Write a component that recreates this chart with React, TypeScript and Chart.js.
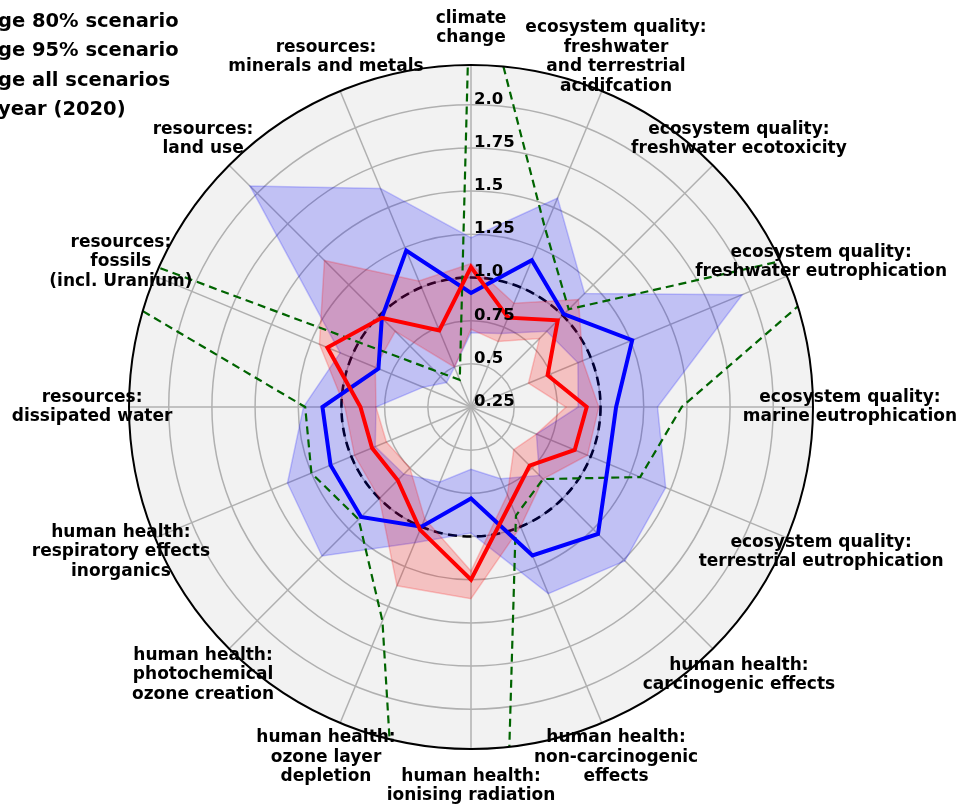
import React, { useEffect, useRef } from 'react';
import { Chart, registerables } from 'chart.js';

Chart.register(...registerables);

// ---------- data ----------
const CATEGORIES: string[][] = [
  ['climate', 'change'],
  ['ecosystem quality:', 'freshwater', 'and terrestrial', 'acidifcation'],
  ['ecosystem quality:', 'freshwater ecotoxicity'],
  ['ecosystem quality:', 'freshwater eutrophication'],
  ['ecosystem quality:', 'marine eutrophication'],
  ['ecosystem quality:', 'terrestrial eutrophication'],
  ['human health:', 'carcinogenic effects'],
  ['human health:', 'non-carcinogenic', 'effects'],
  ['human health:', 'ionising radiation'],
  ['human health:', 'ozone layer', 'depletion'],
  ['human health:', 'photochemical', 'ozone creation'],
  ['human health:', 'respiratory effects', 'inorganics'],
  ['resources:', 'dissipated water'],
  ['resources:', 'fossils', '(incl. Uranium)'],
  ['resources:', 'land use'],
  ['resources:', 'minerals and metals'],
];

const BLUE_LINE = [0.91, 1.17, 1.01, 1.26, 1.09, 1.11, 1.29, 1.18, 0.78, 1.0, 1.15, 1.13, 1.11, 0.83, 0.98, 1.23];
const RED_LINE = [1.06, 0.81, 0.96, 0.73, 0.92, 0.9, 0.73, 0.85, 1.25, 1.02, 0.85, 0.87, 0.89, 1.15, 0.98, 0.73];
const ALL_SCENARIOS = [2.95, 1.37, 1.05, 2.78, 1.47, 1.31, 0.84, 0.93, 10.0, 1.59, 1.17, 1.25, 1.21, 3.73, null, 0.42];
const BLUE_UPPER = [1.23, 1.56, 1.18, 1.95, 1.33, 1.47, 1.51, 1.42, 0.98, 1.1, 1.47, 1.4, 1.22, 1.07, 2.06, 1.62];
const BLUE_LOWER = [0.68, 0.71, 0.87, 0.92, 0.87, 0.66, 0.81, 0.7, 0.61, 0.72, 0.8, 0.85, 0.8, 0.55, 0.45, 0.5];
const RED_UPPER = [1.08, 0.9, 1.13, 0.95, 0.99, 0.98, 0.84, 1.0, 1.36, 1.37, 1.0, 0.98, 0.98, 1.2, 1.45, 1.04];
const RED_LOWER = [0.7, 0.66, 0.81, 0.61, 0.8, 0.66, 0.6, 0.8, 1.2, 0.95, 0.75, 0.78, 0.8, 0.85, 0.87, 0.5];

const TICK_VALUES = [0.25, 0.5, 0.75, 1.0, 1.25, 1.5, 1.75, 2.0];
const TICK_LABELS = ['0.25', '0.5', '0.75', '1.0', '1.25', '1.5', '1.75', '2.0'];
const R_MIN = 0.25;
const R_MAX = 2.23;
const REFERENCE_LEVEL = 1.0;

const LEGEND_LABELS = ['range 80% scenario', 'range 95% scenario', 'range all scenarios', 'base year (2020)'];
const LEGEND_HIDDEN_PREFIX = ['ran', 'ran', 'ran', 'base '];

// ---------- plugin ----------
const FONT = '"DejaVu Sans", "Liberation Sans", sans-serif';

const radarDecor = {
  id: 'radarDecor',
  beforeDatasetsDraw(chart: any) {
    const s = chart.scales.r;
    const ctx = chart.ctx;
    ctx.save();
    ctx.beginPath();
    ctx.arc(s.xCenter, s.yCenter, s.drawingArea, 0, Math.PI * 2);
    ctx.clip();
    // reference circle
    const d = s.getDistanceFromCenterForValue(REFERENCE_LEVEL);
    ctx.save();
    ctx.beginPath();
    ctx.arc(s.xCenter, s.yCenter, d, 0, Math.PI * 2);
    ctx.setLineDash([9, 5.5]);
    ctx.lineWidth = 2.6;
    ctx.strokeStyle = '#000000';
    ctx.stroke();
    ctx.restore();
  },
  afterDatasetsDraw(chart: any) {
    const s = chart.scales.r;
    const ctx = chart.ctx;
    ctx.restore();
    // outer frame
    ctx.save();
    ctx.beginPath();
    ctx.arc(s.xCenter, s.yCenter, s.drawingArea, 0, Math.PI * 2);
    ctx.lineWidth = 2;
    ctx.strokeStyle = '#000000';
    ctx.stroke();
    ctx.restore();

    // radial tick labels
    ctx.save();
    ctx.fillStyle = '#000000';
    ctx.font = 'bold 16.5px ' + FONT;
    ctx.textAlign = 'left';
    ctx.textBaseline = 'alphabetic';
    TICK_VALUES.forEach((v, i) => {
      const dist = s.getDistanceFromCenterForValue(v);
      ctx.fillText(TICK_LABELS[i], s.xCenter + 3, s.yCenter - dist - 1);
    });
    ctx.restore();

    // category labels
    ctx.save();
    ctx.fillStyle = '#000000';
    ctx.font = 'bold 17px ' + FONT;
    ctx.textAlign = 'center';
    ctx.textBaseline = 'middle';
    const lh = 19.5;
    CATEGORIES.forEach((lines, i) => {
      const p = s.getPointPosition(i, s.drawingArea * 1.108);
      lines.forEach((t, k) => {
        ctx.fillText(t, p.x, p.y + (k - (lines.length - 1) / 2) * lh);
      });
    });
    ctx.restore();

    // legend (partly outside the figure)
    ctx.save();
    ctx.fillStyle = '#000000';
    ctx.font = 'bold 19.5px ' + FONT;
    ctx.textAlign = 'left';
    ctx.textBaseline = 'middle';
    LEGEND_LABELS.forEach((t, i) => {
      const w = ctx.measureText(LEGEND_HIDDEN_PREFIX[i]).width;
      ctx.fillText(t, -2 - w, 22 + i * 29.3);
    });
    ctx.restore();
  },
};

export default function App() {
  const ref = useRef<HTMLCanvasElement>(null);
  useEffect(() => {
    const canvas = ref.current;
    if (!canvas) return;
    const labels = CATEGORIES.map((l) => l.join(' '));
    const chart = new Chart(canvas, {
      type: 'radar',
      data: {
        labels,
        datasets: [
          {
            label: 'blue',
            data: BLUE_LINE,
            borderColor: '#0000ff',
            borderWidth: 4,
            pointRadius: 0,
            fill: false,
            order: 1,
          },
          {
            label: 'red',
            data: RED_LINE,
            borderColor: '#ff0000',
            borderWidth: 4,
            pointRadius: 0,
            fill: false,
            order: 0,
          },
          {
            label: 'range all scenarios',
            data: ALL_SCENARIOS,
            borderColor: '#006400',
            borderWidth: 2.2,
            borderDash: [8, 5],
            pointRadius: 0,
            fill: false,
            spanGaps: true,
            order: 2,
          },
          {
            label: 'red upper',
            data: RED_UPPER,
            borderColor: 'rgba(255,0,0,0.2)',
            backgroundColor: 'rgba(255,0,0,0.2)',
            borderWidth: 1.5,
            pointRadius: 0,
            fill: 4,
            order: 3,
          },
          {
            label: 'red lower',
            data: RED_LOWER,
            borderColor: 'rgba(255,0,0,0.2)',
            borderWidth: 1.5,
            pointRadius: 0,
            fill: false,
            order: 4,
          },
          {
            label: 'blue upper',
            data: BLUE_UPPER,
            borderColor: 'rgba(0,0,255,0.2)',
            backgroundColor: 'rgba(0,0,255,0.2)',
            borderWidth: 1.5,
            pointRadius: 0,
            fill: 6,
            order: 5,
          },
          {
            label: 'blue lower',
            data: BLUE_LOWER,
            borderColor: 'rgba(0,0,255,0.2)',
            borderWidth: 1.5,
            pointRadius: 0,
            fill: false,
            order: 6,
          },
        ],
      },
      options: {
        responsive: false,
        animation: false,
        devicePixelRatio: 1,
        layout: { padding: { left: 129, right: 149, top: 65, bottom: 56 } },
        elements: { line: { tension: 0 } },
        plugins: {
          legend: { display: false },
          tooltip: { enabled: false },
        },
        scales: {
          r: {
            min: R_MIN,
            max: R_MAX,
            beginAtZero: false,
            backgroundColor: '#f2f2f2',
            ticks: { display: false, stepSize: 0.25 },
            pointLabels: { display: false },
            grid: {
              circular: true,
              color: (c: any) => (c.tick && c.tick.value > 2.1 ? 'rgba(0,0,0,0)' : '#b0b0b0'),
              lineWidth: 1.5,
            },
            angleLines: { color: '#b0b0b0', lineWidth: 1.5 },
          },
        },
      } as any,
      plugins: [radarDecor],
    });
    return () => chart.destroy();
  }, []);
  return (
    <div style={{ position: 'absolute', left: 0, top: 0, width: 962, height: 805 }}>
      <canvas ref={ref} width={962} height={805} style={{ display: 'block', width: 962, height: 805 }} />
    </div>
  );
}
